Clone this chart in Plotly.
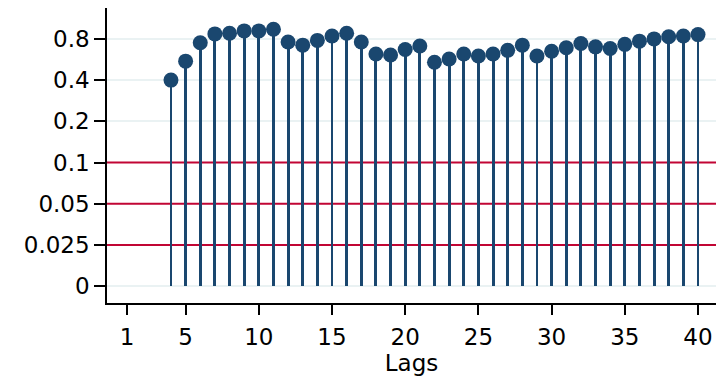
import numpy as np
import plotly.graph_objects as go

lags = list(range(4, 41))
pvalues = [0.40, 0.55, 0.75, 0.87, 0.88, 0.915, 0.915, 0.94, 0.76, 0.72, 0.78, 0.84, 0.88,
           0.76, 0.62, 0.61, 0.67, 0.71, 0.54, 0.57, 0.62, 0.60, 0.62, 0.66, 0.72, 0.60,
           0.65, 0.69, 0.74, 0.70, 0.68, 0.73, 0.77, 0.80, 0.83, 0.84, 0.86]
y_tick_labels = [0, 0.025, 0.05, 0.1, 0.2, 0.4, 0.8]
grid_levels = [0, 0.2, 0.4, 0.8]
x_tick_labels = [1, 5, 10, 15, 20, 25, 30, 35, 40]
ref_levels = [0.1, 0.05, 0.025]

BASE = 0.0125


def tr(p):
    p = np.asarray(p, dtype=float)
    out = np.zeros_like(p)
    m = p > 0
    out[m] = np.log2(p[m] / BASE)
    return out


ty = tr(pvalues)
navy = "#1a476f"
red = "#c10534"
font = "DejaVu Sans, sans-serif"
FS = 23
YR = [-0.41, 6.75]

fig = go.Figure()
for r in ref_levels:
    fig.add_hline(y=float(tr([r])[0]), line=dict(color=red, width=2), layer="below")
fig.add_trace(go.Bar(x=lags, y=ty, width=0.2, marker=dict(color=navy, line=dict(width=0)),
                     hoverinfo="skip"))
fig.add_trace(go.Scatter(x=lags, y=ty, mode="markers",
                         marker=dict(color=navy, size=15, symbol="circle", line=dict(width=0))))

fig.update_layout(
    width=716, height=377,
    margin=dict(l=107, r=0, t=8, b=74),
    paper_bgcolor="white", plot_bgcolor="white",
    showlegend=False,
    font=dict(family=font, size=FS, color="black"),
    bargap=0,
    xaxis=dict(
        range=[-0.37, 41.23],
        tickmode="array", tickvals=x_tick_labels, ticktext=[str(v) for v in x_tick_labels],
        ticks="outside", ticklen=10, tickwidth=1.5, tickcolor="black",
        showline=True, linecolor="black", linewidth=1.5,
        showgrid=False, zeroline=False,
        ticklabelstandoff=3,
        title=dict(text="Lags", font=dict(size=FS), standoff=0),
        tickfont=dict(size=FS),
    ),
    yaxis=dict(
        range=YR,
        tickmode="array", tickvals=list(tr(y_tick_labels)), ticktext=[str(v) for v in y_tick_labels],
        ticks="outside", ticklen=11, tickwidth=1.5, tickcolor="black",
        showline=True, linecolor="black", linewidth=1.5,
        showgrid=False, zeroline=False,
        tickfont=dict(size=FS),
        minor=dict(tickmode="array", tickvals=list(tr(grid_levels)), ticks="",
                   showgrid=True, gridcolor="#eaf2f3", gridwidth=2),
    ),
)
fig.write_html("out.html", config={"displayModeBar": False},
               post_script="document.body.style.margin='0px';")
